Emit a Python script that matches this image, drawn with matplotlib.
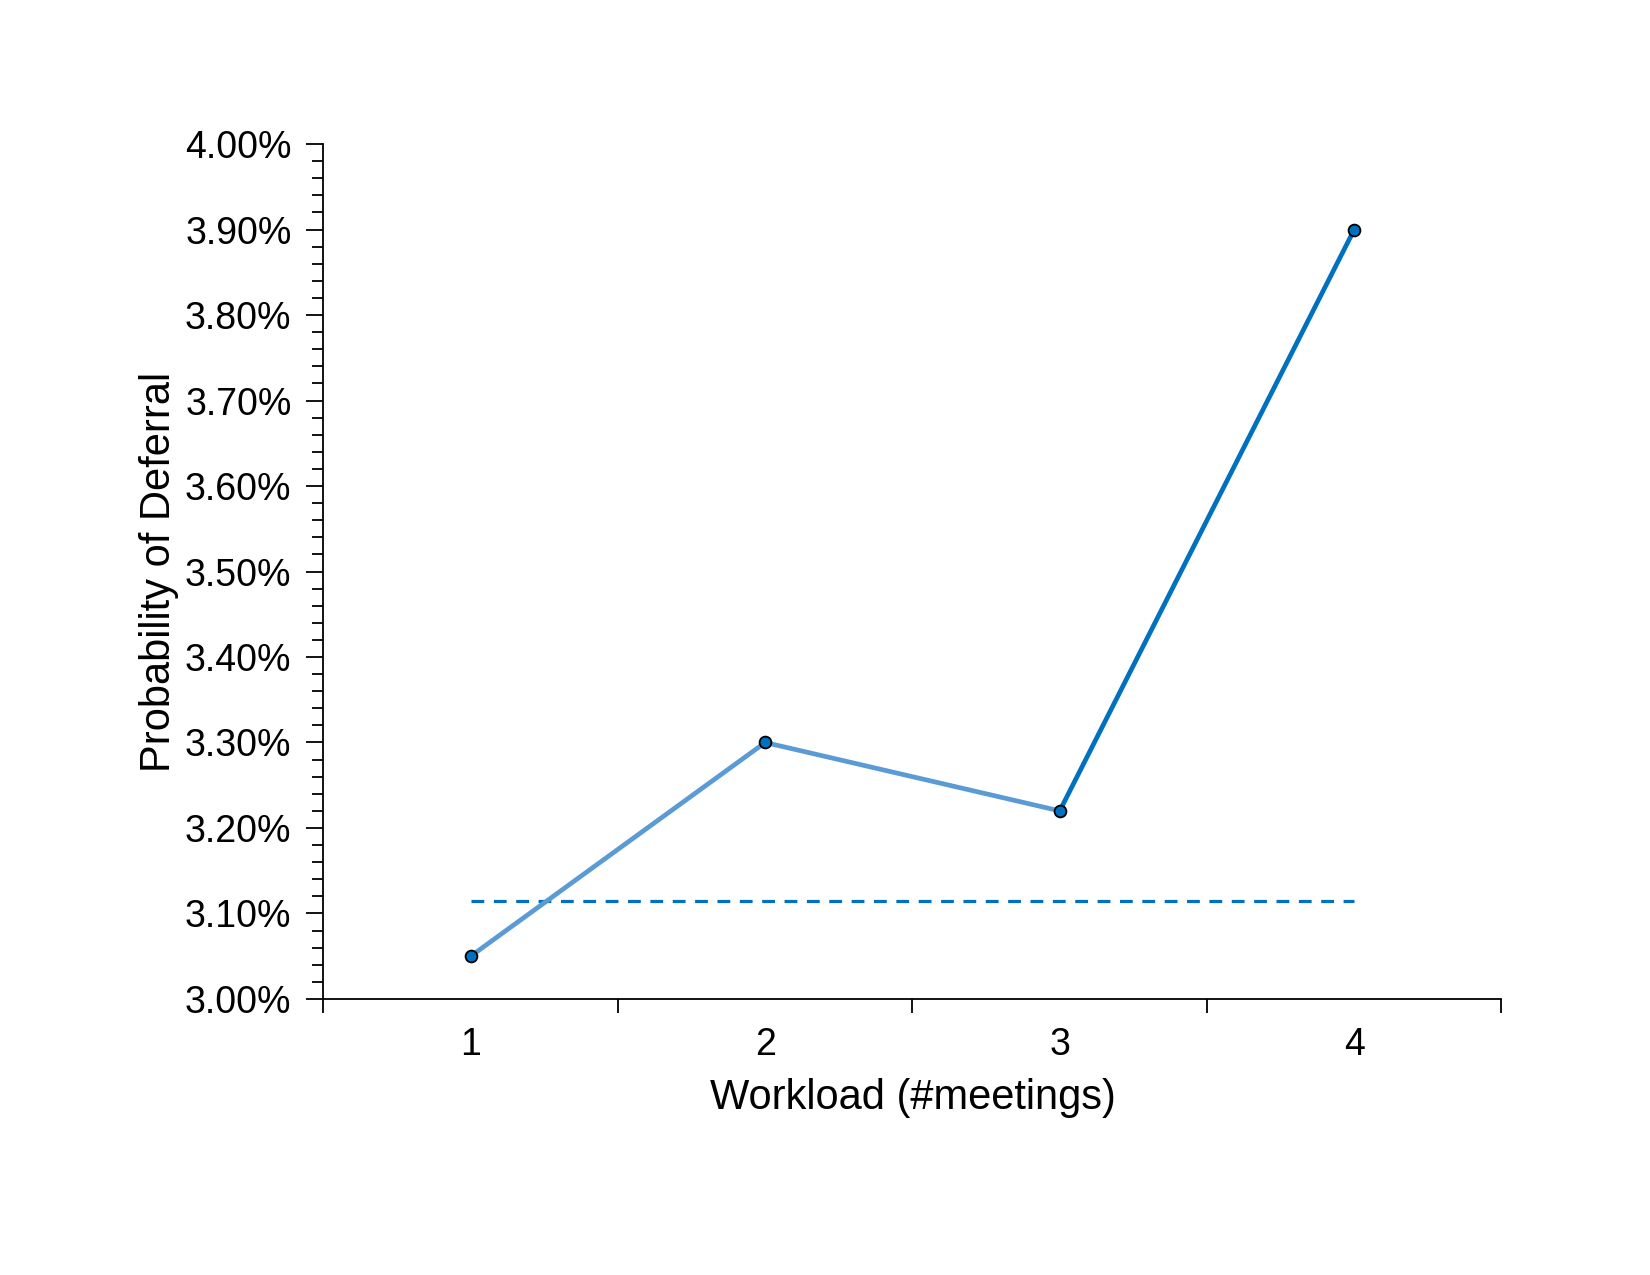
import matplotlib
matplotlib.use('Agg')
import matplotlib.pyplot as plt
from matplotlib.ticker import FixedLocator, MultipleLocator, FuncFormatter

plt.rcParams['font.family'] = ['Liberation Sans', 'DejaVu Sans']

# Data
workload = [1, 2, 3, 4]
prob_deferral = [3.05, 3.30, 3.22, 3.90]   # percent
baseline = 3.115                            # dashed reference level, percent

light_blue = '#5B9BD5'
dark_blue = '#0070C0'

fig = plt.figure(figsize=(16.5, 12.75), dpi=100)
ax = fig.add_axes([0.196, 0.2165, 0.714, 0.6705])

# baseline dashed line
ax.plot([workload[0], workload[-1]], [baseline, baseline], color=dark_blue,
        lw=2.3, ls=(0, (4, 3)), zorder=2)

# segments: first two lighter, last one darker
ax.plot(workload[:3], prob_deferral[:3], color=light_blue, lw=3.4, zorder=3,
        solid_capstyle='butt')
ax.plot(workload[2:], prob_deferral[2:], color=dark_blue, lw=3.4, zorder=3,
        solid_capstyle='butt')
ax.plot(workload, prob_deferral, ls='none', marker='o', ms=8.5,
        mfc=dark_blue, mec='black', mew=1.3, zorder=4)

ax.set_xlim(0.5, 4.5)
ax.set_ylim(3.0, 4.0)

for s in ['top', 'right']:
    ax.spines[s].set_visible(False)
for s in ['left', 'bottom']:
    ax.spines[s].set_linewidth(1.3)

# x: tick marks between categories, labels at category centres
ax.xaxis.set_major_locator(FixedLocator([0.5, 1.5, 2.5, 3.5, 4.5]))
ax.xaxis.set_major_formatter(FuncFormatter(lambda v, p: ''))
ax.xaxis.set_minor_locator(FixedLocator(workload))
ax.xaxis.set_minor_formatter(FuncFormatter(lambda v, p: f'{int(v)}'))
ax.tick_params(axis='x', which='major', direction='out', length=10, width=1.3)
ax.tick_params(axis='x', which='minor', length=0, pad=20, labelsize=27)

ax.yaxis.set_major_locator(MultipleLocator(0.1))
ax.yaxis.set_minor_locator(MultipleLocator(0.02))
ax.yaxis.set_major_formatter(FuncFormatter(lambda v, p: f'{v:.2f}%'))
ax.tick_params(axis='y', which='major', direction='out', length=12, width=1.3,
               labelsize=27, pad=11)
ax.tick_params(axis='y', which='minor', direction='out', length=8, width=1.3)

ax.set_xlabel('Workload (#meetings)', fontsize=30, labelpad=11)
ax.set_ylabel('Probability of Deferral', fontsize=30, labelpad=4)

fig.savefig('out.png', dpi=100)
